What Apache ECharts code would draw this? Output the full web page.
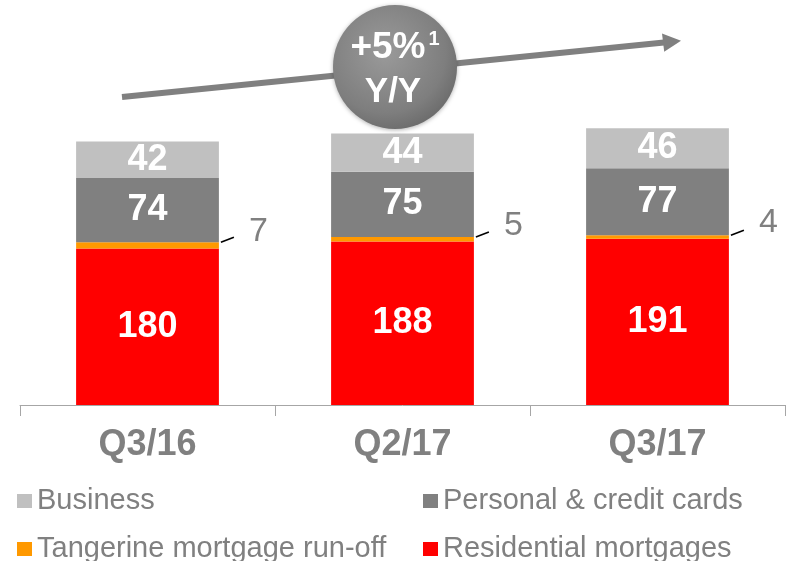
<!DOCTYPE html>
<html>
<head>
<meta charset="utf-8">
<script src="https://cdn.jsdelivr.net/npm/echarts@6/dist/echarts.min.js"></script>
<style>
  html, body { margin: 0; padding: 0; background: #fff; }
  #chart { width: 790px; height: 561px; }
</style>
</head>
<body>
<div id="chart"></div>
<script>
const categories = ['Q3/16', 'Q2/17', 'Q3/17'];
const residential = [180, 188, 191];
const tangerine = [7, 5, 4];
const personal = [74, 75, 77];
const business = [42, 44, 46];
const growthLabel = '+5%';
const growthNote = '1';
const growthPeriod = 'Y/Y';

const font = '"Liberation Sans", Arial, sans-serif';
const grey = '#808080';
const barShare = 0.56;
const chart = echarts.init(document.getElementById('chart'));

const innerLabel = { show: true, position: 'inside', color: '#fff', fontSize: 36, fontWeight: 'bold', fontFamily: font };
const legendItem = (name, left, top) => ({
  left, top, itemWidth: 15, itemHeight: 14, icon: 'rect', padding: 0, data: [name],
  textStyle: { color: grey, fontSize: 29, fontFamily: font, lineHeight: 30 },
});

// short black leader from the top of the orange slice towards its outside label
const leaderLines = tangerine.map((v, i) => [i, residential[i] + v]);

chart.setOption({
  animation: false,
  grid: { left: 20, right: 5, top: 57, bottom: 156 },
  xAxis: {
    type: 'category',
    data: categories,
    axisLine: { lineStyle: { color: '#a6a6a6', width: 1 } },
    axisTick: { show: true, length: 11, lineStyle: { color: '#a6a6a6' } },
    axisLabel: { color: grey, fontSize: 36, fontWeight: 'bold', fontFamily: font, margin: 22 },
  },
  yAxis: { type: 'value', min: 0, max: 400, show: false, splitLine: { show: false } },
  legend: [
    legendItem('Business', 17, 486),
    legendItem('Tangerine mortgage run-off', 17, 534),
    legendItem('Personal & credit cards', 423, 486),
    legendItem('Residential mortgages', 423, 534),
  ],
  graphic: [
    {
      type: 'line', z: 10,
      shape: { x1: 122, y1: 97, x2: 664, y2: 42.6 },
      style: { stroke: grey, lineWidth: 6 },
    },
    {
      type: 'polygon', z: 10,
      shape: { points: [[681, 40.8], [664.2, 51.8], [662.0, 33.4]] },
      style: { fill: grey },
    },
    {
      type: 'circle', z: 11,
      shape: { cx: 395, cy: 67, r: 62 },
      style: {
        fill: new echarts.graphic.RadialGradient(0.42, 0.38, 0.7, [
          { offset: 0, color: '#9a9a9a' },
          { offset: 0.7, color: '#7e7e7e' },
          { offset: 1, color: '#666666' },
        ]),
        shadowBlur: 4, shadowColor: 'rgba(0,0,0,0.3)', shadowOffsetY: 1,
      },
    },
    {
      type: 'text', z: 12,
      style: {
        text: '{a|' + growthLabel + '}{s|' + growthNote + '}',
        x: 395, y: 48, align: 'center', verticalAlign: 'middle',
        rich: {
          a: { fill: '#fff', fontSize: 37, fontWeight: 'bold', fontFamily: font },
          s: { fill: '#fff', fontSize: 20, fontWeight: 'bold', fontFamily: font, verticalAlign: 'top', padding: [0, 0, 0, 3] },
        },
      },
    },
    {
      type: 'text', z: 12,
      style: {
        text: growthPeriod, x: 393, y: 92, align: 'center', verticalAlign: 'middle',
        fill: '#fff', fontSize: 35, fontWeight: 'bold', fontFamily: font,
      },
    },
  ],
  series: [
    {
      name: 'Residential mortgages', type: 'bar', stack: 'total', barWidth: barShare * 100 + '%',
      itemStyle: { color: '#ff0000' }, data: residential, label: innerLabel,
    },
    {
      name: 'Tangerine mortgage run-off', type: 'bar', stack: 'total',
      itemStyle: { color: '#ff9900' }, data: tangerine,
      label: {
        show: true, position: 'right', distance: 30, offset: [0, -14],
        color: grey, fontSize: 34, fontFamily: font,
      },
    },
    {
      name: 'Personal & credit cards', type: 'bar', stack: 'total',
      itemStyle: { color: '#808080' }, data: personal, label: innerLabel,
    },
    {
      name: 'Business', type: 'bar', stack: 'total',
      itemStyle: { color: '#c0c0c0' }, data: business, label: innerLabel,
    },
    {
      type: 'custom', silent: true, z: 5, data: leaderLines,
      renderItem: (params, api) => {
        const top = api.coord([api.value(0), api.value(1)]);
        const half = api.size([1, 0])[0] * barShare / 2;
        return {
          type: 'line',
          shape: { x1: top[0] + half + 2, y1: top[1], x2: top[0] + half + 15, y2: top[1] - 5 },
          style: { stroke: '#000', lineWidth: 1.6 },
        };
      },
    },
  ],
});
</script>
</body>
</html>
